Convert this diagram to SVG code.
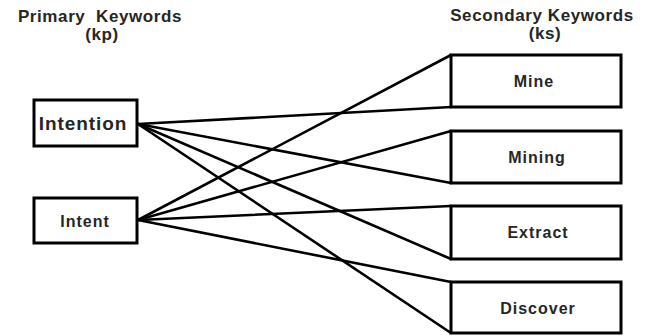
<svg xmlns="http://www.w3.org/2000/svg" width="648" height="336" viewBox="0 0 648 336">
<style>
text{font-family:"Liberation Sans",Arial,sans-serif;font-weight:bold;fill:#262626;text-anchor:middle}
.hd{font-size:17px;letter-spacing:0.6px}
.box{fill:#fff;stroke:#000;stroke-width:3}
.lbl{font-size:16px;letter-spacing:1px}
#connectors line{stroke:#000;stroke-width:2.6;stroke-linecap:round}
</style>
<rect width="648" height="336" fill="#fff"/>
<g id="headers">
<text class="hd" x="100" y="22" xml:space="preserve">Primary  Keywords</text>
<text class="hd" x="102" y="40">(kp)</text>
<text class="hd" x="542" y="21">Secondary Keywords</text>
<text class="hd" x="545" y="39">(ks)</text>
</g>
<g id="connectors">
<line x1="138" y1="124" x2="451" y2="107"/>
<line x1="138" y1="124" x2="451" y2="183"/>
<line x1="138" y1="124" x2="451" y2="259"/>
<line x1="138" y1="124" x2="451" y2="333"/>
<line x1="138" y1="220" x2="451" y2="55"/>
<line x1="138" y1="220" x2="451" y2="131"/>
<line x1="138" y1="220" x2="451" y2="206"/>
<line x1="138" y1="220" x2="451" y2="282"/>
</g>
<g id="intention">
<rect class="box" x="34" y="100" width="103" height="46"/>
<text x="83" y="130" style="font-size:19px;letter-spacing:0.9px">Intention</text>
</g>
<g id="intent">
<rect class="box" x="34" y="198" width="103" height="45"/>
<text x="85" y="227" style="font-size:16px;letter-spacing:1px">Intent</text>
</g>
<g id="mine">
<rect class="box" x="451" y="55" width="170" height="52"/>
<text class="lbl" x="534" y="87">Mine</text>
</g>
<g id="mining">
<rect class="box" x="451" y="131" width="170" height="52"/>
<text class="lbl" x="537" y="163">Mining</text>
</g>
<g id="extract">
<rect class="box" x="451" y="206" width="170" height="53"/>
<text class="lbl" x="538" y="238">Extract</text>
</g>
<g id="discover">
<rect class="box" x="451" y="282" width="170" height="51"/>
<text class="lbl" x="538" y="314">Discover</text>
</g>
</svg>
